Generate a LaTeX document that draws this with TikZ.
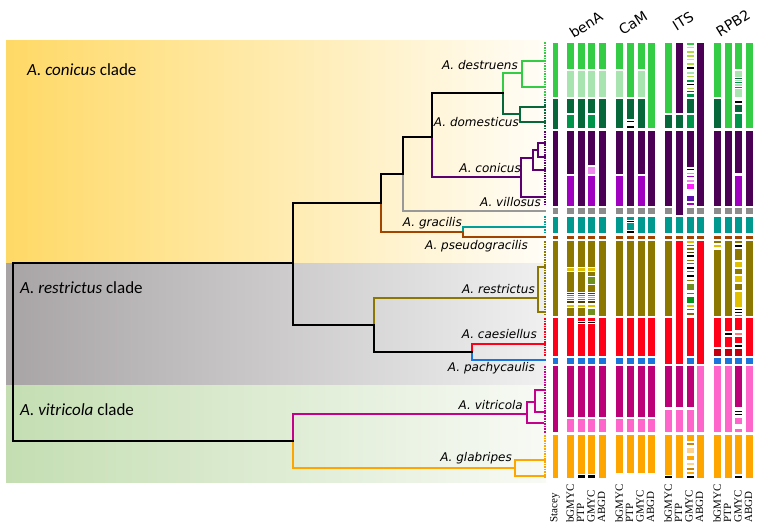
\documentclass[tikz,border=0pt]{standalone}
\usepackage{fontspec}
\setmainfont{Liberation Serif}
\newfontfamily\cladefont{Carlito}
\newfontfamily\spfont{DejaVu Sans}
\usetikzlibrary{positioning}
% clade colours
\definecolor{cLG}{HTML}{33CC44}
\definecolor{cPG}{HTML}{A8E4B0}
\definecolor{cDG}{HTML}{06673A}
\definecolor{cMG}{HTML}{00944A}
\definecolor{cDP}{HTML}{4B0055}
\definecolor{cVI}{HTML}{A000C0}
\definecolor{cLV}{HTML}{EE88EE}
\definecolor{cMF}{HTML}{FF22FF}
\definecolor{cIN}{HTML}{6010B0}
\definecolor{cGY}{HTML}{8C8C8C}
\definecolor{cTE}{HTML}{009990}
\definecolor{cBR}{HTML}{A24400}
\definecolor{cOL}{HTML}{8C7800}
\definecolor{cYE}{HTML}{E0BE00}
\definecolor{cDO}{HTML}{4E3E00}
\definecolor{cGO}{HTML}{6F9020}
\definecolor{cBN}{HTML}{9A5A10}
\definecolor{cGN}{HTML}{00941A}
\definecolor{cYG}{HTML}{B0D840}
\definecolor{cRE}{HTML}{FF0018}
\definecolor{cDR}{HTML}{C00010}
\definecolor{cPR}{HTML}{FF7777}
\definecolor{cBL}{HTML}{1A74DC}
\definecolor{cMA}{HTML}{BB0078}
\definecolor{cPK}{HTML}{FF66CC}
\definecolor{cOR}{HTML}{FFA500}
\definecolor{cLO}{HTML}{FFD28C}
\definecolor{cDK}{HTML}{C8860A}
% tree colours
\definecolor{tPU}{HTML}{5C0070}
\definecolor{tMA}{HTML}{C4008C}
\definecolor{tGY}{HTML}{999999}
\definecolor{tTE}{HTML}{00A098}
% band colours
\definecolor{YelL}{HTML}{FFD966}
\definecolor{YelR}{HTML}{FFFDF7}
\definecolor{GryL}{HTML}{A8A4A5}
\definecolor{GryR}{HTML}{F0F0F1}
\definecolor{GrnL}{HTML}{C4DEB2}
\definecolor{GrnR}{HTML}{F8FAF5}
\tikzset{
  branch/.style={line width=1.6pt, line cap=rect},
  tips/.style={line width=1.3pt, dash pattern=on 1.6pt off 1pt},
  sp/.style={font=\spfont\itshape\fontsize{12}{12}\selectfont, anchor=east, inner sep=0pt},
  clade/.style={font=\cladefont\fontsize{17}{17}\selectfont, anchor=west, inner sep=0pt},
  gene/.style={font=\spfont\fontsize{14}{14}\selectfont, rotate=32, inner sep=0pt},
  method/.style={font=\fontsize{11}{11}\selectfont, rotate=90, anchor=west, inner sep=0pt},
  seg/.style={draw=white, line width=0.5pt},
}
% one delimitation column: x, width, list of y1/y2/colour
\newcommand\gcol[3]{%
  \foreach \ya/\yb/\cc in {#3} {\filldraw[seg, fill=\cc] (#1,\ya) rectangle (#1+#2,\yb);}}

\begin{document}
\begin{tikzpicture}[x=1pt, y=-1pt]
  \useasboundingbox (0,0) rectangle (767,531);
  \fill[white] (0,0) rectangle (767,531);

  % clade bands
  \shade[left color=YelL, right color=YelR] (6,40) rectangle (546,263);
  \shade[left color=GryL, right color=GryR] (6,263) rectangle (546,385);
  \shade[left color=GrnL, right color=GrnR] (6,385) rectangle (546,482);

  \node[clade] (kCon) at (27,70) {\textit{A. conicus} clade};
  \node[clade] (kRes) at (20,288) {\textit{A. restrictus} clade};
  \node[clade] (kVit) at (20,410) {\textit{A. vitricola} clade};

  % tree nodes
  \coordinate (root) at (13,352);
  \coordinate (nAR) at (293,263);
  \coordinate (nVit) at (293,441);
  \coordinate (nC1) at (381,203);
  \coordinate (nRes) at (374,325);
  \coordinate (nC2) at (403,174);
  \coordinate (nGra) at (463,232);
  \coordinate (nC3) at (432,137);
  \coordinate (tVil) at (545,211);
  \coordinate (nDD) at (503,93);
  \coordinate (nCon) at (521,177);
  \coordinate (nDes) at (522,73);
  \coordinate (nDom) at (520,114);
  \coordinate (tDes1) at (545,61);
  \coordinate (tDes2) at (545,87);
  \coordinate (tDom1) at (545,107);
  \coordinate (tDom2) at (545,122);
  \coordinate (nCon2) at (533,158);
  \coordinate (tCon1) at (543,197);
  \coordinate (nCon3) at (538,150);
  \coordinate (tCon2) at (545,170);
  \coordinate (tCon3) at (545,143);
  \coordinate (tCon4) at (545,157);
  \coordinate (tGra) at (545,227);
  \coordinate (tPse) at (545,237);
  \coordinate (nRst) at (538,298);
  \coordinate (nCP) at (472,352);
  \coordinate (tRst1) at (545,267);
  \coordinate (tRst2) at (545,312);
  \coordinate (tCae) at (545,344);
  \coordinate (tPac) at (545,360);
  \coordinate (nVt) at (527,414);
  \coordinate (nGla) at (515,468);
  \coordinate (nVt2) at (535,402);
  \coordinate (tVt1) at (543,423);
  \coordinate (tVt2) at (545,390);
  \coordinate (tVt3) at (545,412);
  \coordinate (tGla1) at (545,460);
  \coordinate (tGla2) at (545,476);

  % coloured branches
  \draw[branch, tGY] (nC2) |- (tVil);
  \draw[branch, cBR] (nC1) |- (nGra);
  \draw[branch, tTE] (nGra) |- (tGra);
  \draw[branch, cBR] (nGra) |- (tPse);
  \draw[branch, tPU] (nC3) |- (nCon);
  \draw[branch, tPU] (nCon) |- (nCon2);
  \draw[branch, tPU] (nCon) |- (tCon1);
  \draw[branch, tPU] (nCon2) |- (nCon3);
  \draw[branch, tPU] (nCon2) |- (tCon2);
  \draw[branch, tPU] (nCon3) |- (tCon3);
  \draw[branch, tPU] (nCon3) |- (tCon4);
  \draw[branch, cLG] (nDD) |- (nDes);
  \draw[branch, cLG] (nDes) |- (tDes1);
  \draw[branch, cLG] (nDes) |- (tDes2);
  \draw[branch, cDG] (nDD) |- (nDom);
  \draw[branch, cDG] (nDom) |- (tDom1);
  \draw[branch, cDG] (nDom) |- (tDom2);
  \draw[branch, cOL] (nRes) |- (nRst);
  \draw[branch, cOL] (nRst) |- (tRst1);
  \draw[branch, cOL] (nRst) |- (tRst2);
  \draw[branch, cRE] (nCP) |- (tCae);
  \draw[branch, cBL] (nCP) |- (tPac);
  \draw[branch, tMA] (nVit) |- (nVt);
  \draw[branch, tMA] (nVt) |- (nVt2);
  \draw[branch, tMA] (nVt) |- (tVt1);
  \draw[branch, tMA] (nVt2) |- (tVt2);
  \draw[branch, tMA] (nVt2) |- (tVt3);
  \draw[branch, cOR] (nVit) |- (nGla);
  \draw[branch, cOR] (nGla) |- (tGla1);
  \draw[branch, cOR] (nGla) |- (tGla2);

  % black backbone
  \draw[branch] (root) |- (nAR);
  \draw[branch] (root) |- (nVit);
  \draw[branch] (nAR) |- (nC1);
  \draw[branch] (nAR) |- (nRes);
  \draw[branch] (nC1) |- (nC2);
  \draw[branch] (nC2) |- (nC3);
  \draw[branch] (nC3) |- (nDD);
  \draw[branch] (nRes) |- (nCP);

  % sample ticks
  \draw[tips, cLG] (545,42) -- (545,97);
  \draw[tips, cDG] (545,99) -- (545,128);
  \draw[tips, tPU] (545,131) -- (545,206);
  \draw[tips, tTE] (545,216) -- (545,233);
  \draw[tips, cOL] (545,241) -- (545,316);
  \draw[tips, cRE] (545,318) -- (545,356);
  \draw[tips, tMA] (545,366) -- (545,433);
  \draw[tips, cOR] (545,435) -- (545,478);

  % species labels
  \node[sp] (lDes) at (518,65) {A. destruens};
  \node[sp] (lDom) at (519,122) {A. domesticus};
  \node[sp] (lCon) at (521,168) {A. conicus};
  \node[sp] (lVil) at (541,202) {A. villosus};
  \node[sp] (lGra) at (462,223) {A. gracilis};
  \node[sp] (lPse) at (528,246) {A. pseudogracilis};
  \node[sp] (lRst) at (535,289) {A. restrictus};
  \node[sp] (lCae) at (537,334) {A. caesiellus};
  \node[sp] (lPac) at (535,368) {A. pachycaulis};
  \node[sp] (lVt) at (523,405) {A. vitricola};
  \node[sp] (lGla) at (512,458) {A. glabripes};

  % Stacey
  \gcol{552}{6}{42/97/cLG,98/129/cDG,130/206/cDP,207/214/cGY,216/233/cTE,235/239/cBR,240/316/cOL,317/356/cRE,357/364/cBL,365/432/cMA,434/478/cOR}

  % benA
  \gcol{566}{8.5}{42/69/cLG,70/97/cPG,98/113/cDG,114/128/cMG,130/174/cDP,175/206/cVI,207/214/cGY,216/233/cTE,235/239/cBR,240/316/cOL,267/271/cYE,292/294/cDO,296/298/cYE,300/303/cDO,304/307/cYE,317/356/cRE,357/364/cBL,365/417/cMA,418/432/cPK,434/478/cOR}
  \gcol{577}{8.5}{42/69/cLG,70/97/cPG,98/128/cDG,130/206/cDP,207/214/cGY,216/233/cTE,235/239/cBR,240/316/cOL,267/271/cYE,292/294/cDO,296/298/cYE,300/303/cDO,304/307/cYE,317/356/cRE,321/323/black,357/364/cBL,365/417/cMA,418/432/cPK,434/478/cOR,474/478/black}
  \gcol{587}{8.5}{42/69/cLG,70/97/cPG,98/113/cDG,114/128/cMG,130/165/cDP,166/174/cLV,175/206/cVI,207/214/cGY,216/233/cTE,235/239/cBR,240/316/cOL,267/271/cYE,276/284/cGO,292/294/cDO,296/298/cYE,300/303/cDO,304/307/cYE,308/315/cGO,317/356/cRE,321/323/black,357/364/cBL,365/417/cMA,418/432/cPK,434/478/cOR,474/478/black}
  \gcol{598}{8.5}{42/69/cLG,70/97/cPG,98/128/cDG,130/206/cDP,207/214/cGY,216/233/cTE,235/239/cBR,240/316/cOL,317/356/cRE,357/364/cBL,365/417/cMA,418/432/cPK,434/478/cOR}

  % CaM
  \gcol{615}{8.5}{42/69/cLG,70/97/cPG,98/128/cDG,130/174/cDP,175/206/cVI,207/214/cGY,216/233/cTE,235/239/cBR,240/316/cOL,317/356/cRE,357/364/cBL,365/417/cMA,418/432/cPK,434/473/cOR}
  \gcol{626}{8.5}{42/97/cLG,98/119/cDG,120/122/black,125/128/black,130/206/cDP,207/214/cGY,216/233/cTE,220/222/black,230/233/black,235/239/cBR,240/316/cOL,317/356/cRE,357/364/cBL,365/417/cMA,418/432/cPK,434/473/cOR}
  \gcol{637}{8.5}{42/69/cLG,70/97/cPG,98/128/cDG,130/174/cDP,175/206/cVI,207/214/cGY,216/233/cTE,235/239/cBR,240/316/cOL,317/356/cRE,357/364/cBL,365/417/cMA,418/432/cPK,434/473/cOR}
  \gcol{647}{8.5}{42/128/cLG,130/206/cDP,207/214/cGY,216/233/cTE,235/239/cBR,240/316/cOL,317/356/cRE,357/364/cBL,365/417/cMA,418/432/cPK,434/473/cOR}

  % ITS
  \gcol{664}{8.5}{42/113/cLG,114/128/cDG,130/206/cDP,207/214/cGY,216/233/cTE,235/239/cBR,240/316/cOL,317/364/cRE,365/407/cMA,409/432/cPK,434/478/cOR,475/478/black}
  \gcol{675}{8.5}{42/113/cDP,114/128/cDG,130/215/cDP,216/233/cTE,235/239/cBR,240/364/cRE,365/407/cMA,409/432/cPK,434/478/cOR}
  \gcol{686}{8.5}{42/45/cLG,46/48/cPG,50/53/cYG,54/57/cYG,58/60/cPG,62/65/cYG,66/69/black,71/74/cPG,75/77/cYG,79/82/cMG,83/85/black,87/89/cYG,90/92/cDG,93/97/cMG,98/113/cDG,114/128/cMG,130/167/cDP,168/170/black,172/174/cLV,175/177/cVI,179/182/cLV,183/189/cMF,195/201/cIN,202/205/cVI,207/214/cGY,216/233/cTE,235/239/cBR,240/243/cYE,244/246/cBN,247/250/cOL,251/253/cDO,254/257/black,259/261/cOL,262/264/cBN,266/269/black,270/272/cOL,274/277/black,279/281/cOL,283/290/cGO,292/294/cBN,296/303/cGN,304/307/cYE,308/310/cBN,312/315/cBN,317/356/cRE,357/364/cBL,365/407/cMA,409/432/cPK,434/441/cOR,442/445/cDK,447/453/cLO,455/460/cOR,462/465/cLO,467/470/cDK,471/474/cOR,475/478/black}
  \gcol{696}{8.5}{42/206/cDP,207/214/cGY,216/233/cTE,235/239/cBR,240/364/cRE,365/432/cPK,434/478/cOR}

  % RPB2
  \gcol{713}{8.5}{42/97/cLG,98/128/cDG,130/206/cDP,207/214/cGY,216/233/cTE,235/239/cBR,240/243/cOL,244/247/cYE,249/316/cOL,317/347/cRE,348/356/cDR,357/364/cBL,365/432/cPK,434/478/cOR}
  \gcol{724}{8.5}{42/128/cLG,130/206/cDP,207/214/cGY,216/233/cTE,235/239/cBR,240/316/cOL,317/331/cRE,332/335/black,336/347/cRE,348/356/cDR,357/364/cBL,365/432/cPK,434/478/cOR}
  \gcol{734}{8.5}{42/69/cLG,70/97/cPG,77/79/cDG,81/83/cMG,86/88/cMG,98/99/cDG,100/103/black,104/112/cDG,113/128/cMG,130/173/cDP,175/206/cVI,207/214/cGY,216/233/cTE,235/239/cBR,240/243/cOL,244/247/black,248/260/cOL,261/267/cYE,268/274/cOL,275/282/cYE,283/290/cOL,291/307/cYE,308/310/black,311/313/black,314/316/cOL,317/330/cRE,332/335/cPR,336/343/cRE,344/347/black,348/356/cDR,357/364/cBL,365/407/cMA,408/409/black,410/412/black,413/415/black,417/424/cPK,428/432/cPK,434/474/cOR,475/478/black}
  \gcol{745}{8.5}{42/128/cLG,130/206/cDP,207/214/cGY,216/233/cTE,235/239/cBR,240/316/cOL,317/356/cRE,357/364/cBL,365/432/cPK,434/478/cOR}

  % gene names
  \node[gene] (gBen) at (586,25) {benA};
  \node[gene] (gCam) at (633,23) {CaM};
  \node[gene] (gIts) at (683,21) {ITS};
  \node[gene] (gRpb) at (733,23) {RPB2};

  % method names
  \node[method] (mSt) at (555,523) {Stacey};
  \foreach \gx [count=\gi] in {570,619,668,717} {
    \node[method] (mB\gi) at (\gx,523) {bGMYC};
    \node[method] (mP\gi) at (\gx+10.5,523) {PTP};
    \node[method] (mG\gi) at (\gx+21,523) {GMYC};
    \node[method] (mA\gi) at (\gx+31.5,523) {ABGD};
  }
\end{tikzpicture}
\end{document}
